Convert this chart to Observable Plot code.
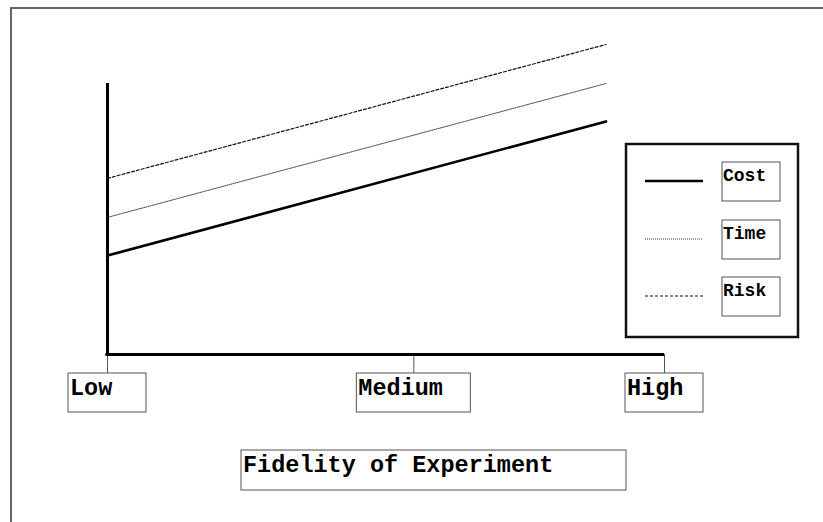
<!DOCTYPE html>
<html>
<head>
<meta charset="utf-8">
<script src="https://cdn.jsdelivr.net/npm/d3@7"></script>
<script src="https://cdn.jsdelivr.net/npm/@observablehq/plot@0.6"></script>
<style>
  html, body { margin: 0; padding: 0; background: #fff; overflow: hidden; }
</style>
</head>
<body>
<div id="chart"></div>
<script>
// ---- data ----
const levels = ["Low", "Medium", "High"];          // tick labels on fidelity axis
const levelPos = [0, 55, 100];                      // position of each level on the axis
const series = ["Cost", "Time", "Risk"];            // series names
const startX = 0;                                   // fidelity where lines begin
const endX = 89.5;                                  // fidelity where lines end
const startValues = [36.5, 50.6, 65.0];             // value at start
const endValues = [86.0, 100.0, 114.4];             // value at end
const axisTitle = "Fidelity of Experiment";

// ---- styles / layout (not data) ----
const lineStyle = {
  Cost: {stroke: "#000", strokeWidth: 2.6, strokeDasharray: null},
  Time: {stroke: "#444", strokeWidth: 1, strokeDasharray: "1,1"},
  Risk: {stroke: "#111", strokeWidth: 1.2, strokeDasharray: "3,2"}
};
const font = "'Liberation Mono', 'Courier New', monospace";
const tickBoxWidth = {Low: 78, Medium: 114, High: 78};

const rows = series.flatMap((s, i) => [
  {series: s, x: startX, y: startValues[i]},
  {series: s, x: endX, y: endValues[i]}
]);

const chart = Plot.plot({
  width: 823,
  height: 522,
  marginLeft: 107,
  marginRight: 159,
  marginTop: 83,
  marginBottom: 168,
  x: {domain: [0, 100], axis: null},
  y: {domain: [0, 100], axis: null},
  style: {fontFamily: font, background: "#fff", overflow: "hidden"},
  marks: [
    // tick lines hanging below the axis
    Plot.ruleX(levelPos, {y1: 0, y2: 0, insetBottom: -19, stroke: "#555", strokeWidth: 1}),
    // series lines
    ...series.map(s => Plot.line(rows.filter(d => d.series === s), {
      x: "x", y: "y",
      stroke: lineStyle[s].stroke,
      strokeWidth: lineStyle[s].strokeWidth,
      strokeDasharray: lineStyle[s].strokeDasharray
    })),
    // axes
    Plot.ruleX([0], {y1: 0, y2: 100, stroke: "#000", strokeWidth: 3}),
    Plot.ruleY([0], {x1: -0.3, x2: 100, stroke: "#000", strokeWidth: 3})
  ]
});

document.getElementById("chart").appendChild(chart);

// ---- decorations: frame, label boxes, legend ----
const svg = d3.select(chart);
const xs = chart.scale("x");
const ys = chart.scale("y");
const axisY = ys.apply(0);

// outer frame (top and left edges visible)
svg.insert("path", ":first-child")
  .attr("d", "M11,530V8H830")
  .attr("fill", "none").attr("stroke", "#666").attr("stroke-width", 2);

function label(g, x, y, size, txt) {
  g.append("text")
    .attr("x", x).attr("y", y)
    .attr("text-anchor", "start")
    .attr("font-family", font).attr("font-weight", "bold").attr("font-size", size)
    .attr("fill", "#000").text(txt);
}

// tick label boxes
const tg = svg.append("g");
levels.forEach((lab, i) => {
  const cx = xs.apply(levelPos[i]);
  const w = tickBoxWidth[lab];
  const top = axisY + 19;
  tg.append("rect")
    .attr("x", cx - w / 2).attr("y", top).attr("width", w).attr("height", 39)
    .attr("fill", "#fff").attr("stroke", "#555").attr("stroke-width", 1);
  label(tg, cx - w / 2 + 2, top + 22, 23.5, lab);
});

// axis title box
const ag = svg.append("g");
ag.append("rect")
  .attr("x", 241).attr("y", 450).attr("width", 385).attr("height", 40)
  .attr("fill", "#fff").attr("stroke", "#555").attr("stroke-width", 1);
label(ag, 243, 472, 23.5, axisTitle);

// legend
const lg = svg.append("g");
lg.append("rect")
  .attr("x", 626).attr("y", 144).attr("width", 172).attr("height", 193)
  .attr("fill", "#fff").attr("stroke", "#111").attr("stroke-width", 2.5);
const legendRowY = [181, 239, 296];
series.forEach((s, i) => {
  const yy = legendRowY[i];
  lg.append("line")
    .attr("x1", 645).attr("x2", 703).attr("y1", yy).attr("y2", yy)
    .attr("stroke", lineStyle[s].stroke)
    .attr("stroke-width", lineStyle[s].strokeWidth)
    .attr("stroke-dasharray", lineStyle[s].strokeDasharray);
  lg.append("rect")
    .attr("x", 722).attr("y", yy - 19).attr("width", 58).attr("height", 39)
    .attr("fill", "#fff").attr("stroke", "#555").attr("stroke-width", 1);
  label(lg, 723, yy, 18, s);
});
</script>
</body>
</html>
